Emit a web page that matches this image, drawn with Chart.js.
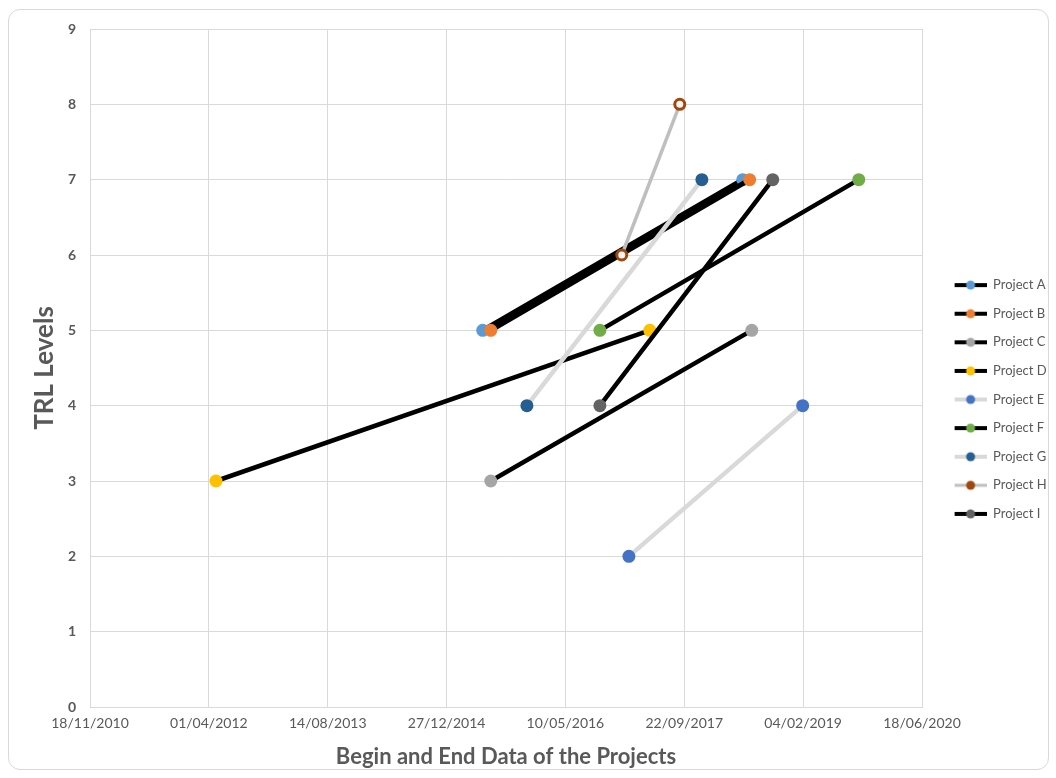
<!DOCTYPE html>
<html>
<head>
<meta charset="utf-8">
<script src="https://cdn.jsdelivr.net/npm/chart.js@4.4.0/dist/chart.umd.min.js"></script>
<style>
    html, body { margin: 0; padding: 0; background: #fff; }
    #frame { position: absolute; left: 8px; top: 9px; width: 1041px; height: 761px; border: 1px solid #d9d9d9; border-radius: 12px; box-sizing: border-box; }
    #wrap { position: absolute; left: 0; top: 0; width: 1056px; height: 778px; }
</style>
</head>
<body>
<div id="frame"></div>
<div id="wrap"><canvas id="chart"></canvas></div>
<script>
// Données
const projects = ['Project A', 'Project B', 'Project C', 'Project D', 'Project E', 'Project F', 'Project G', 'Project H', 'Project I'];
const startDates = ['2015-05-28', '2015-07-01', '2015-07-01', '2012-05-01', '2017-02-01', '2016-10-02', '2015-11-30', '2017-01-02', '2016-10-02'];
const endDates = ['2018-05-26', '2018-06-24', '2018-07-03', '2017-04-30', '2019-02-02', '2019-09-26', '2017-12-05', '2017-09-03', '2018-09-29'];
const startLevels = [5, 5, 3, 3, 2, 5, 4, 6, 4];
const endLevels = [7, 7, 5, 5, 4, 7, 7, 8, 7];
const tickDates = ['2010-11-18', '2012-04-01', '2013-08-14', '2014-12-27', '2016-05-10', '2017-09-22', '2019-02-04', '2020-06-18'];
const levelTicks = [0, 1, 2, 3, 4, 5, 6, 7, 8, 9];

// Styles des séries
const markerColors = ['#5b9bd5', '#ed7d31', '#a5a5a5', '#ffc000', '#4472c4', '#70ad47', '#255e91', '#9e480e', '#636363'];
const lineColors = ['#000', '#000', '#000', '#000', '#d9d9d9', '#000', '#d9d9d9', '#bfbfbf', '#000'];
const lineWidths = [5, 5, 4.5, 4.5, 4.5, 4.5, 4.5, 3.5, 4.5];

function toDay(s) {
    const p = s.split('-').map(Number);
    return Date.UTC(p[0], p[1] - 1, p[2]) / 86400000;
}

function formatDay(v) {
    const d = new Date(v * 86400000);
    const dd = String(d.getUTCDate()).padStart(2, '0');
    const mm = String(d.getUTCMonth() + 1).padStart(2, '0');
    return dd + '/' + mm + '/' + d.getUTCFullYear();
}

// Icône de légende : trait + marqueur
function legendIcon(i) {
    const c = document.createElement('canvas');
    c.width = 49;
    c.height = 14;
    const g = c.getContext('2d');
    g.strokeStyle = lineColors[i];
    g.lineWidth = i === 7 ? 3 : 4;
    g.beginPath();
    g.moveTo(17, 7);
    g.lineTo(49, 7);
    g.stroke();
    g.fillStyle = markerColors[i];
    g.beginPath();
    g.arc(33, 7, 4.5, 0, Math.PI * 2);
    g.fill();
    return c;
}

const datasets = projects.map((name, i) => ({
    label: name,
    data: [
        { x: toDay(startDates[i]), y: startLevels[i] },
        { x: toDay(endDates[i]), y: endLevels[i] }
    ],
    borderColor: lineColors[i],
    borderWidth: lineWidths[i],
    borderCapStyle: 'round',
    pointRadius: i === 7 ? 5 : 6.5,
    pointBackgroundColor: i === 7 ? '#f4f4f4' : markerColors[i],
    pointBorderColor: markerColors[i],
    pointBorderWidth: i === 7 ? 3 : 0,
    order: projects.length - i
}));

const font = "Lato, 'Open Sans', sans-serif";

new Chart(document.getElementById('chart'), {
    type: 'line',
    data: { datasets: datasets },
    options: {
        responsive: true,
        maintainAspectRatio: false,
        animation: false,
        layout: { padding: { left: 24, top: 29, right: 0, bottom: 8 } },
        plugins: {
            tooltip: { enabled: false },
            legend: {
                position: 'right',
                maxWidth: 134,
                labels: {
                    usePointStyle: true,
                    pointStyleWidth: 49,
                    padding: 15.6,
                    color: '#595959',
                    font: { family: font, size: 13 },
                    generateLabels: chart => chart.data.datasets.map((ds, i) => ({
                        text: ds.label,
                        pointStyle: legendIcon(i),
                        fillStyle: markerColors[i],
                        strokeStyle: 'transparent',
                        lineWidth: 0,
                        hidden: false,
                        datasetIndex: i,
                        fontColor: '#595959'
                    }))
                }
            }
        },
        scales: {
            x: {
                type: 'linear',
                min: toDay(tickDates[0]),
                max: toDay(tickDates[tickDates.length - 1]),
                afterBuildTicks: s => { s.ticks = tickDates.map(d => ({ value: toDay(d) })); },
                afterFit: s => { s.height = 63; },
                grid: { color: '#d9d9d9', drawTicks: false },
                border: { color: '#d9d9d9' },
                ticks: {
                    padding: 8,
                    maxRotation: 0,
                    autoSkip: false,
                    color: '#595959',
                    font: { family: font, size: 14 },
                    callback: v => formatDay(v)
                },
                title: {
                    display: true,
                    text: 'Begin and End Data of the Projects',
                    color: '#595959',
                    font: { family: font, size: 22, weight: 'bold' },
                    padding: { top: 0, bottom: 0 }
                }
            },
            y: {
                min: levelTicks[0],
                max: levelTicks[levelTicks.length - 1],
                afterBuildTicks: s => { s.ticks = levelTicks.map(v => ({ value: v })); },
                afterFit: s => { s.width = 66; },
                grid: { color: '#d9d9d9', drawTicks: false },
                border: { color: '#d9d9d9' },
                ticks: {
                    padding: 14,
                    color: '#595959',
                    font: { family: font, size: 14, weight: 'bold' }
                },
                title: {
                    display: true,
                    text: 'TRL Levels',
                    color: '#595959',
                    font: { family: font, size: 26, weight: 'bold' },
                    padding: { top: 5, bottom: 4 }
                }
            }
        }
    }
});
</script>
</body>
</html>
